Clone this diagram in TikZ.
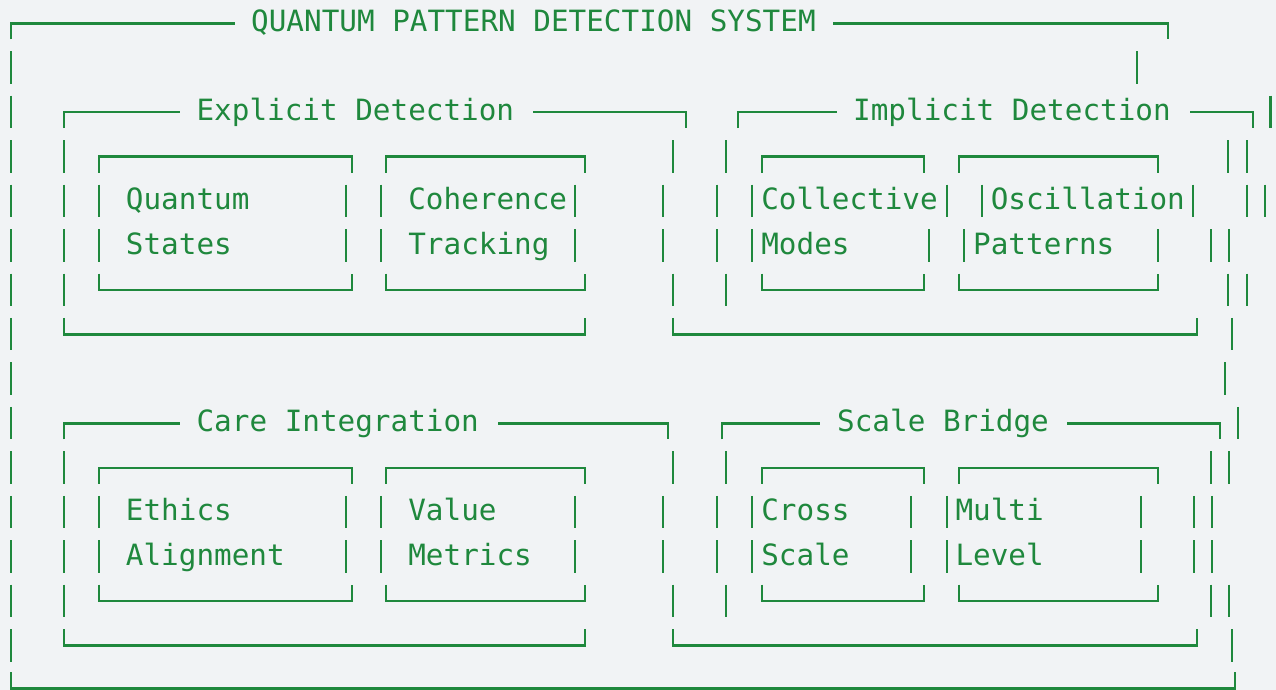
\documentclass[tikz,border=0pt]{standalone}
\usepackage{fontspec}
\usepackage{tikz}
\newfontfamily\asciifont{DejaVu Sans Mono}
\definecolor{termgreen}{HTML}{1F883D}
\definecolor{panelgray}{HTML}{F1F3F5}
\tikzset{
  frame/.style={draw=termgreen, line width=2.6pt},
  txt/.style={font=\asciifont\fontsize{29.3}{35}\selectfont, text=termgreen, anchor=base west, inner sep=0pt},
  declare function={ry(\r)=23.3+44.45*\r;}
}

\begin{document}
\begin{tikzpicture}[x=1pt, y=-1pt]
  \fill[panelgray] (0,0) rectangle (1276,690);
  \useasboundingbox (0,0) rectangle (1276,690);

  % headings
  \node[txt] (title) at (251,{ry(0)+8.5}) {QUANTUM PATTERN DETECTION SYSTEM};
  \node[txt] (explicit) at (196.4,{ry(2)+8.5}) {Explicit Detection};
  \node[txt] (implicit) at (853,{ry(2)+8.5}) {Implicit Detection};
  \node[txt] (care) at (196.4,{ry(9)+8.5}) {Care Integration};
  \node[txt] (bridge) at (837,{ry(9)+8.5}) {Scale Bridge};

  % inner labels
  \node[txt] (quantum) at (125.75,{ry(4)+8.5}) {Quantum};
  \node[txt] (states) at (125.75,{ry(5)+8.5}) {States};
  \node[txt] (coherence) at (408.15,{ry(4)+8.5}) {Coherence};
  \node[txt] (tracking) at (408.15,{ry(5)+8.5}) {Tracking};
  \node[txt] (collective) at (761.15,{ry(4)+8.5}) {Collective};
  \node[txt] (modes) at (761.15,{ry(5)+8.5}) {Modes};
  \node[txt] (oscillation) at (990.6,{ry(4)+8.5}) {Oscillation};
  \node[txt] (patterns) at (973,{ry(5)+8.5}) {Patterns};
  \node[txt] (ethics) at (125.75,{ry(11)+8.5}) {Ethics};
  \node[txt] (alignment) at (125.75,{ry(12)+8.5}) {Alignment};
  \node[txt] (value) at (408.15,{ry(11)+8.5}) {Value};
  \node[txt] (metrics) at (408.15,{ry(12)+8.5}) {Metrics};
  \node[txt] (cross) at (761.15,{ry(11)+8.5}) {Cross};
  \node[txt] (scale) at (761.15,{ry(12)+8.5}) {Scale};
  \node[txt] (multi) at (955.3,{ry(11)+8.5}) {Multi};
  \node[txt] (level) at (955.3,{ry(12)+8.5}) {Level};

  % heading rules
  \draw[frame] (11,{ry(0)+16}) |- (235,{ry(0)});
  \draw[frame] (833,{ry(0)}) -- (1168,{ry(0)}) -- (1168,{ry(0)+16});
  \foreach \a/\b/\c/\d/\r in {64/180/533/686/2, 738/837/1190/1253/2,
                             64/180/498/668/9, 722/820/1067/1220/9} {
    \draw[frame] (\a,{ry(\r)+16}) |- (\b,{ry(\r)});
    \draw[frame] (\c,{ry(\r)}) -- (\d,{ry(\r)}) -- (\d,{ry(\r)+16});
  }

  % top and bottom edges
  \foreach \a/\b/\r in {99/352/3, 386/585/3, 762/924/3, 959/1158/3,
                        99/352/10, 386/585/10, 762/924/10, 959/1158/10}
    \draw[frame] (\a,{ry(\r)+16}) |- (\b,{ry(\r)}) -- (\b,{ry(\r)+16});
  \foreach \a/\b/\r in {99/352/6, 386/585/6, 762/924/6, 959/1158/6,
                        64/585/7, 673/1197/7,
                        99/352/13, 386/585/13, 762/924/13, 959/1158/13,
                        64/585/14, 673/1197/14}
    \draw[frame] (\a,{ry(\r)-16.5}) |- (\b,{ry(\r)}) -- (\b,{ry(\r)-16.5});
  \draw[frame] (11,672) |- (1235,688.5) -- (1235,672);

  % side bars, row by row
  \foreach \r/\xs in {1/{11,1137}, 2/{11,1270.7},
      3/{11,64,673,726,1228,1247},
      4/{11,64,99,346,381,575,663,717,752,947,982,1193,1247,1265},
      5/{11,64,99,346,381,575,663,717,752,929,964,1158,1211,1229},
      6/{11,64,673,726,1228,1247},
      7/{11,1232}, 8/{11,1225}, 9/{11,1238},
      10/{11,64,673,726,1211,1229},
      11/{11,64,99,346,381,575,663,717,752,911,947,1141,1194,1212},
      12/{11,64,99,346,381,575,663,717,752,911,947,1141,1194,1212},
      13/{11,64,673,726,1211,1229},
      14/{11,1232}}
    \foreach \x in \xs
      \draw[frame] (\x,{ry(\r)-16.5}) -- (\x,{ry(\r)+16});
\end{tikzpicture}
\end{document}
